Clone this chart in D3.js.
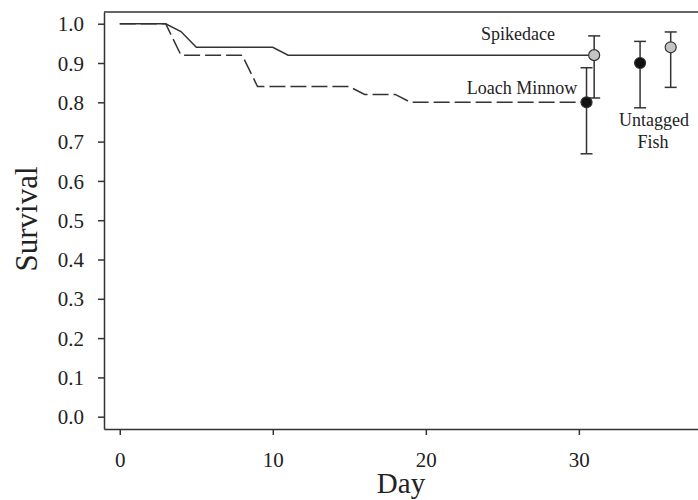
<!DOCTYPE html>
<html>
<head>
<meta charset="utf-8">
<script src="https://cdn.jsdelivr.net/npm/d3@7"></script>
<style>
  body { margin: 0; background: #fff; }
  text { font-family: "Liberation Serif", "Times New Roman", serif; fill: #222; }
</style>
</head>
<body>
<svg width="698" height="500"></svg>
<script>
// survival curves (day, survival)
var spikeDays = [0, 3, 4, 5, 10, 11, 31],
    spikeSurv = [1, 1, 0.98, 0.94, 0.94, 0.92, 0.92];
var loachDays = [0, 3, 4, 8, 9, 15, 16, 18, 19, 30.5],
    loachSurv = [1, 1, 0.92, 0.92, 0.84, 0.84, 0.82, 0.82, 0.80, 0.80];

// points with error bars
var pointNames = ["Spikedace", "Loach Minnow", "Untagged Loach Minnow", "Untagged Spikedace"],
    pointDays = [31, 30.5, 34, 36],
    pointSurv = [0.92, 0.80, 0.90, 0.94],
    pointLow = [0.811, 0.669, 0.786, 0.838],
    pointHigh = [0.969, 0.888, 0.955, 0.979],
    pointType = ["grey", "black", "black", "grey"];

var xTicks = [0, 10, 20, 30],
    yTicks = [0, 0.1, 0.2, 0.3, 0.4, 0.5, 0.6, 0.7, 0.8, 0.9, 1.0];

var svg = d3.select("svg"),
    plotLeft = 104, plotRight = 699, plotTop = 12, plotBottom = 429;

var x = d3.scaleLinear().domain([-1.03, 37.85]).range([plotLeft, plotRight]),
    y = d3.scaleLinear().domain([-0.0313, 1.0298]).range([plotBottom, plotTop]);

var ink = "#333";

// assen
var gx = svg.append("g")
    .attr("transform", "translate(0," + plotBottom + ")")
    .call(d3.axisBottom(x).tickValues(xTicks).tickSize(6).tickSizeOuter(0).tickPadding(17));
var gy = svg.append("g")
    .attr("transform", "translate(" + plotLeft + ",0)")
    .call(d3.axisLeft(y).tickValues(yTicks).tickFormat(d3.format(".1f")).tickSize(6).tickSizeOuter(0).tickPadding(14));

svg.selectAll(".domain, .tick line").attr("stroke", ink).attr("stroke-width", 1.5);
svg.selectAll(".tick text").attr("font-size", 21).attr("fill", "#222")
    .style("font-family", "'Liberation Serif', serif");
gy.selectAll(".tick text").attr("dy", "0.34em");

// bovenrand
svg.append("line")
    .attr("x1", plotLeft).attr("x2", plotRight)
    .attr("y1", plotTop).attr("y2", plotTop)
    .attr("stroke", ink).attr("stroke-width", 1.5);

// aslabels
svg.append("text")
    .attr("x", 401)
    .attr("y", 493)
    .attr("text-anchor", "middle")
    .attr("font-size", 29)
    .text("Day");
svg.append("text")
    .attr("transform", "translate(37,219) rotate(-90)")
    .attr("text-anchor", "middle")
    .attr("font-size", 31)
    .text("Survival");

// lijnen
var line = d3.line()
    .x(function(d) { return x(d[0]); })
    .y(function(d) { return y(d[1]); });

svg.append("path")
    .datum(d3.zip(spikeDays, spikeSurv))
    .attr("d", line)
    .attr("fill", "none")
    .attr("stroke", ink)
    .attr("stroke-width", 1.5);

svg.append("path")
    .datum(d3.zip(loachDays, loachSurv))
    .attr("d", line)
    .attr("fill", "none")
    .attr("stroke", ink)
    .attr("stroke-width", 1.5)
    .attr("stroke-dasharray", "16,5");

// foutbalken
var pts = pointNames.map(function(n, i) {
  return { name: n, day: pointDays[i], s: pointSurv[i], lo: pointLow[i], hi: pointHigh[i], type: pointType[i] };
});

var eb = svg.selectAll(".err").data(pts).enter().append("g").attr("class", "err");
eb.append("line")
    .attr("x1", function(d) { return x(d.day); })
    .attr("x2", function(d) { return x(d.day); })
    .attr("y1", function(d) { return y(d.lo); })
    .attr("y2", function(d) { return y(d.hi); })
    .attr("stroke", ink).attr("stroke-width", 1.5);
eb.selectAll(".cap")
    .data(function(d) { return [d.lo, d.hi].map(function(v) { return { day: d.day, v: v }; }); })
    .enter().append("line")
    .attr("x1", function(d) { return x(d.day) - 6; })
    .attr("x2", function(d) { return x(d.day) + 6; })
    .attr("y1", function(d) { return y(d.v); })
    .attr("y2", function(d) { return y(d.v); })
    .attr("stroke", ink).attr("stroke-width", 1.5);
eb.append("circle")
    .attr("cx", function(d) { return x(d.day); })
    .attr("cy", function(d) { return y(d.s); })
    .attr("r", 5.5)
    .attr("fill", function(d) { return d.type === "grey" ? "#c4c4c4" : "#111"; })
    .attr("stroke", ink).attr("stroke-width", 1.2);

// labels
svg.append("text").attr("x", 518).attr("y", 40).attr("text-anchor", "middle")
    .attr("font-size", 18).text("Spikedace");
svg.append("text").attr("x", 522).attr("y", 94).attr("text-anchor", "middle")
    .attr("font-size", 18).text("Loach Minnow");
svg.append("text").attr("x", 654).attr("y", 126).attr("text-anchor", "middle")
    .attr("font-size", 18).text("Untagged");
svg.append("text").attr("x", 653).attr("y", 148).attr("text-anchor", "middle")
    .attr("font-size", 18).text("Fish");
</script>
</body>
</html>
